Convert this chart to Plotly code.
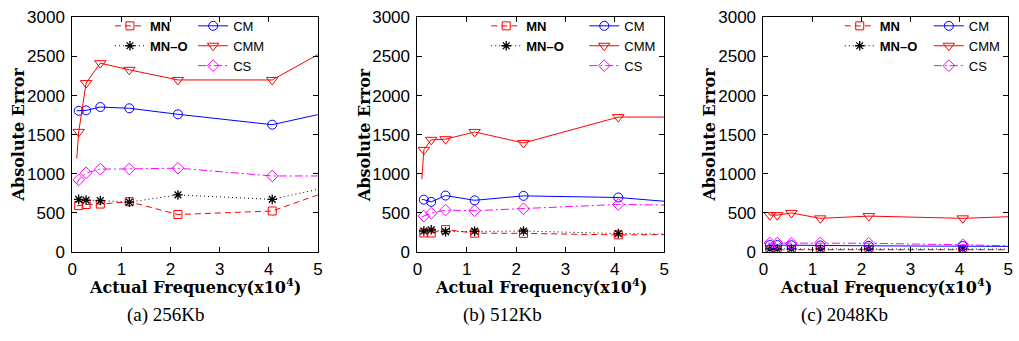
import plotly.graph_objects as go

# ---------------- data ----------------
freq = [0.09, 0.13, 0.28, 0.57, 1.16, 2.15, 4.07, 5.0]   # x10^4
marked = [0, 1, 1, 1, 1, 1, 1, 0]                         # which points carry a marker

series_names = ["MN", "MN-O", "CM", "CMM", "CS"]
panels = ["(a) 256Kb", "(b) 512Kb", "(c) 2048Kb"]

mn_256   = [590, 590, 605, 610, 640, 476, 521, 727]
mno_256  = [675, 670, 660, 655, 635, 727, 670, 800]
cm_256   = [1805, 1805, 1810, 1853, 1837, 1760, 1627, 1756]
cmm_256  = [1195, 1535, 2160, 2415, 2330, 2200, 2200, 2525]
cs_256   = [870, 920, 1010, 1058, 1060, 1070, 970, 970]

mn_512   = [240, 240, 240, 283, 237, 235, 215, 218]
mno_512  = [262, 265, 280, 256, 262, 265, 232, 225]
cm_512   = [670, 666, 638, 719, 658, 715, 694, 646]
cmm_512  = [931, 1304, 1433, 1441, 1534, 1393, 1724, 1724]
cs_512   = [450, 456, 493, 533, 525, 549, 605, 597]

mn_2048  = [25, 25, 25, 25, 25, 25, 25, 25]
mno_2048 = [35, 35, 35, 35, 35, 35, 33, 33]
cm_2048  = [85, 85, 85, 82, 80, 75, 72, 68]
cs_2048  = [110, 110, 110, 105, 112, 108, 88, 75]
cmm_2048 = [505, 468, 468, 496, 427, 456, 427, 448]

x_ticks = [0, 1, 2, 3, 4, 5]
y_ticks = [0, 500, 1000, 1500, 2000, 2500, 3000]

data = [
    {"MN": mn_256, "MN-O": mno_256, "CM": cm_256, "CMM": cmm_256, "CS": cs_256},
    {"MN": mn_512, "MN-O": mno_512, "CM": cm_512, "CMM": cmm_512, "CS": cs_512},
    {"MN": mn_2048, "MN-O": mno_2048, "CM": cm_2048, "CMM": cmm_2048, "CS": cs_2048},
]

# ---------------- styles ----------------
W, H = 1019, 341
style = {
    "MN":   dict(color="#ff0000", dash="6px,4px", symbol="square-open", size=8, lw=1),
    "MN-O": dict(color="#000000", dash="1px,3px", symbol="asterisk-open", size=8, lw=1),
    "CM":   dict(color="#0000ff", dash="solid", symbol="circle-open", size=9, lw=1),
    "CMM":  dict(color="#ff0000", dash="solid", symbol="triangle-down-open", size=10, lw=1),
    "CS":   dict(color="#ff00ff", dash="8px,3px,2px,3px", symbol="diamond-open", size=9, lw=1),
}
col1 = ["MN", "MN-O"]

# pixel geometry
x_dom_px = [(68, 316), (416.5, 665.7), (766, 1013.3)]
y_top_px, y_bot_px = 9, 257
leg_col1_px = [106, 486, 843]
leg_col2_px = [190, 585, 933]
ytitle_x_px = [14, 363, 712]
caption_x_px = [163, 502, 848]

fig = go.Figure()

for p in range(3):
    ax = "" if p == 0 else str(p + 1)
    for name in series_names:
        st = style[name]
        leg_idx = 2 * p + (1 if name in col1 else 2)
        leg = "legend" if leg_idx == 1 else f"legend{leg_idx}"
        mlw = 1.3 if name == "MN-O" else 1
        # real data trace
        fig.add_trace(go.Scatter(
            x=freq, y=data[p][name], mode="lines+markers",
            xaxis="x" + ax, yaxis="y" + ax, showlegend=False,
            line=dict(color=st["color"], width=st["lw"], dash=st["dash"]),
            marker=dict(symbol=st["symbol"], size=st["size"], color=st["color"],
                        opacity=marked, line=dict(color=st["color"], width=mlw)),
            hoverinfo="skip",
        ))
        # legend entry
        label = f"<b>{name.replace('-', '–')}</b>" if name in col1 else name
        fig.add_trace(go.Scatter(
            x=[None], y=[None], mode="lines+markers", name=label,
            xaxis="x" + ax, yaxis="y" + ax, legend=leg,
            line=dict(color=st["color"], width=st["lw"], dash=st["dash"]),
            marker=dict(symbol=st["symbol"], size=st["size"], color=st["color"],
                        line=dict(color=st["color"], width=mlw)),
        ))

tick_font = dict(family="Liberation Sans, Arial, sans-serif", size=17, color="black")
axis_common = dict(showline=True, linecolor="black", linewidth=1, mirror="allticks",
                   ticks="inside", ticklen=5, tickcolor="black", showgrid=False,
                   zeroline=False, tickfont=tick_font, fixedrange=True,
                   ticklabeloverflow="allow")

layout = dict(width=W, height=H, margin=dict(l=0, r=0, t=0, b=0),
              paper_bgcolor="white", plot_bgcolor="white")
ydom = [1 - y_bot_px / H, 1 - y_top_px / H]
for p in range(3):
    ax = "" if p == 0 else str(p + 1)
    xd = [x_dom_px[p][0] / W, x_dom_px[p][1] / W]
    layout["xaxis" + ax] = dict(domain=xd, range=[0, 5], tickvals=x_ticks,
                                anchor="y" + ax, ticklabelstandoff=2, **axis_common)
    layout["yaxis" + ax] = dict(domain=ydom, range=[0, 3000], tickvals=y_ticks,
                                anchor="x" + ax, ticklabelstandoff=3, **axis_common)
    for c, xs in ((1, leg_col1_px[p]), (2, leg_col2_px[p])):
        leg_idx = 2 * p + c
        leg = "legend" if leg_idx == 1 else f"legend{leg_idx}"
        layout[leg] = dict(x=xs / W, y=1 - 2 / H, xanchor="left", yanchor="top",
                           bgcolor="rgba(0,0,0,0)", borderwidth=0,
                           font=dict(family="Liberation Sans, Arial, sans-serif",
                                     size=13, color="black"),
                           itemwidth=30, tracegroupgap=0)

annotations = []
for p in range(3):
    xc = (x_dom_px[p][0] + x_dom_px[p][1]) / 2
    annotations.append(dict(
        text="Actual Frequency(x10<sup>4</sup>)", x=xc / W, y=1 - 293 / H,
        xref="paper", yref="paper", xanchor="center", yanchor="middle", showarrow=False,
        font=dict(family="DejaVu Serif", size=16, color="black", weight="bold")))
    annotations.append(dict(
        text="Absolute Error", x=ytitle_x_px[p] / W, y=1 - 133 / H, textangle=-90,
        xref="paper", yref="paper", xanchor="center", yanchor="middle", showarrow=False,
        font=dict(family="DejaVu Serif", size=16, color="black", weight="bold")))
    annotations.append(dict(
        text=panels[p], x=caption_x_px[p] / W, y=1 - 324 / H,
        xref="paper", yref="paper", xanchor="center", yanchor="middle", showarrow=False,
        font=dict(family="Liberation Serif", size=19, color="black")))
layout["annotations"] = annotations

fig.update_layout(**layout)
fig.write_html("out.html",
               config={"displayModeBar": False},
               post_script="document.body.style.margin='0px';"
                           "document.body.style.overflow='hidden';")
